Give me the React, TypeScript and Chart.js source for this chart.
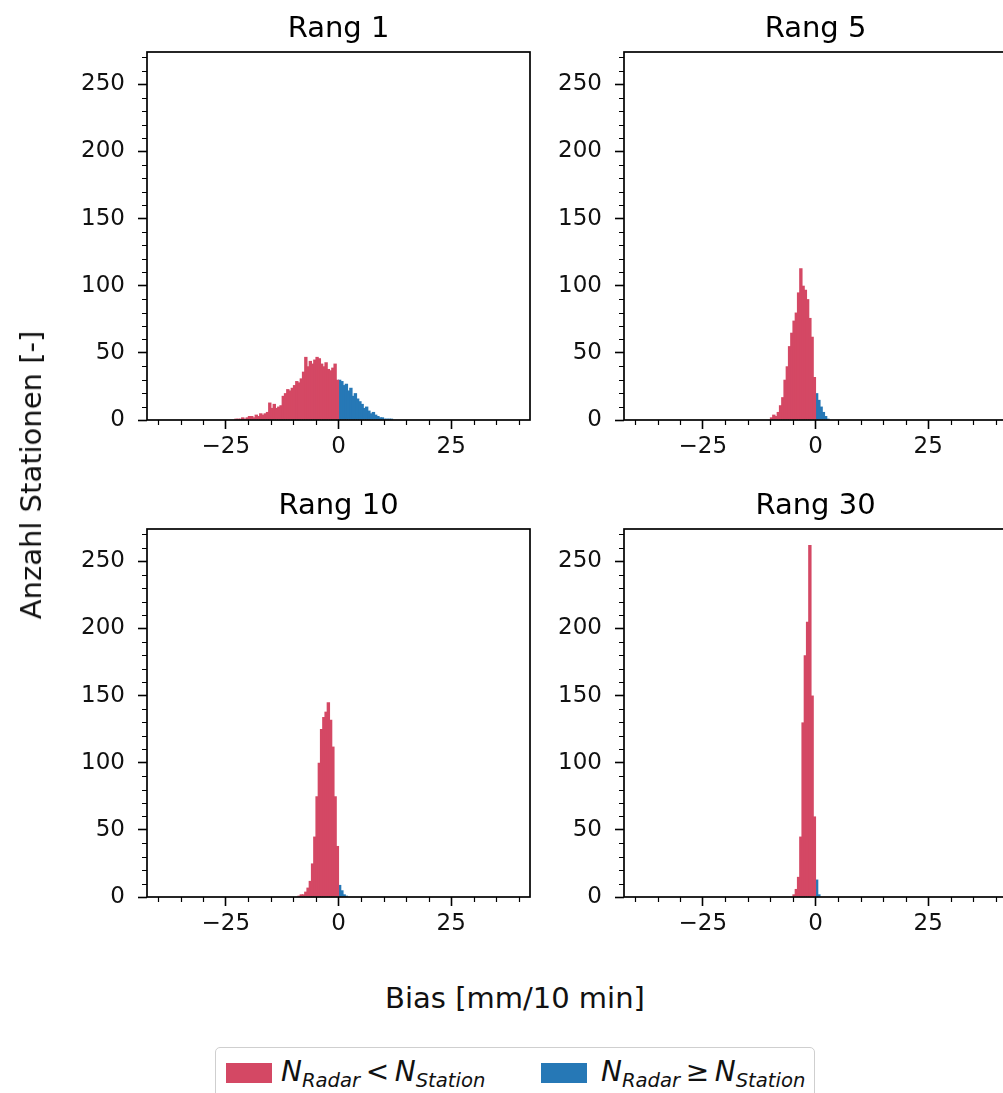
import React, { useEffect, useRef } from 'react';
import { Chart, registerables } from 'chart.js';

Chart.register(...registerables);

const FONT = '"DejaVu Sans", sans-serif';
const BIN_WIDTH = 0.5;
const X_MIN = -42.5;
const X_MAX = 42.5;
const Y_MIN = 0;
const Y_MAX = 274;
const xMajorTicks = [-25, 0, 25];
const yMajorTicks = [0, 50, 100, 150, 200, 250];
const X_MINOR_STEP = 5;
const Y_MINOR_STEP = 10;

const RED = 'rgb(212, 72, 100)';
const BLUE = 'rgb(38, 120, 182)';

const panelTitles = ['Rang 1', 'Rang 5', 'Rang 10', 'Rang 30'];

// histogram bins (0.5 mm wide), values = number of stations
const rang1RedFirstBin = -22.75;
const rang1Red = [
  1, 1, 1, 2, 1, 2, 3, 3, 2, 4,
  3, 5, 4, 5, 6, 13, 9, 12, 9, 10,
  11, 18, 20, 23, 22, 24, 26, 29, 28, 31,
  36, 47, 40, 44, 42, 45, 47, 46, 42, 40,
  43, 38, 37, 39, 42, 30,
];
const rang1BlueFirstBin = 0.25;
const rang1Blue = [30, 29, 26, 27, 22, 24, 18, 20, 16, 14, 12, 9, 10, 7, 5, 6, 4, 3, 2, 2, 1, 1, 1, 1];

const rang5RedFirstBin = -9.75;
const rang5Red = [2, 4, 3, 6, 11, 17, 30, 40, 55, 65, 74, 80, 95, 113, 100, 97, 90, 76, 62, 32];
const rang5BlueFirstBin = 0.25;
const rang5Blue = [20, 15, 10, 6, 3, 1];

const rang10RedFirstBin = -8.75;
const rang10Red = [1, 2, 2, 4, 7, 12, 25, 45, 75, 100, 125, 134, 138, 145, 132, 112, 75, 38];
const rang10BlueFirstBin = 0.25;
const rang10Blue = [9, 5, 2, 1];

const rang30RedFirstBin = -4.75;
const rang30Red = [2, 6, 15, 45, 130, 180, 205, 262, 150, 60];
const rang30BlueFirstBin = 0.25;
const rang30Blue = [13, 2];

const panels = [
  { title: panelTitles[0], redFirst: rang1RedFirstBin, red: rang1Red, blueFirst: rang1BlueFirstBin, blue: rang1Blue },
  { title: panelTitles[1], redFirst: rang5RedFirstBin, red: rang5Red, blueFirst: rang5BlueFirstBin, blue: rang5Blue },
  { title: panelTitles[2], redFirst: rang10RedFirstBin, red: rang10Red, blueFirst: rang10BlueFirstBin, blue: rang10Blue },
  { title: panelTitles[3], redFirst: rang30RedFirstBin, red: rang30Red, blueFirst: rang30BlueFirstBin, blue: rang30Blue },
];

// layout (plot-area top-left corners)
const PLOT_W = 383;
const PLOT_H = 368;
const Y_AXIS_W = 100;
const X_AXIS_H = 60;
const TITLE_H = 52;
const RIGHT_PAD = 20;
const panelPos = [
  { left: 147, top: 52 },
  { left: 624, top: 52 },
  { left: 147, top: 529 },
  { left: 624, top: 529 },
];

const fmt = (v: number) => (v < 0 ? '\u2212' + Math.abs(v) : String(v));

const framePlugin = {
  id: 'frameMinor',
  afterDraw(chart: any) {
    const { ctx, chartArea: a, scales } = chart;
    const xs = scales.x;
    const ys = scales.y;
    ctx.save();
    ctx.strokeStyle = '#000';
    ctx.lineWidth = 1.2;
    ctx.beginPath();
    for (let v = Math.ceil(X_MIN / X_MINOR_STEP) * X_MINOR_STEP; v <= X_MAX; v += X_MINOR_STEP) {
      if (xMajorTicks.includes(v)) continue;
      const px = Math.round(xs.getPixelForValue(v)) + 0.5;
      ctx.moveTo(px, a.bottom);
      ctx.lineTo(px, a.bottom + 5);
    }
    for (let v = Y_MIN; v <= Y_MAX; v += Y_MINOR_STEP) {
      if (yMajorTicks.includes(v)) continue;
      const py = Math.round(ys.getPixelForValue(v)) + 0.5;
      ctx.moveTo(a.left, py);
      ctx.lineTo(a.left - 5, py);
    }
    ctx.stroke();
    ctx.lineWidth = 1.7;
    ctx.strokeRect(a.left, a.top, a.right - a.left, a.bottom - a.top);
    ctx.restore();
  },
};

function HistPanel({ panel, pos }: { panel: any; pos: { left: number; top: number } }) {
  const ref = useRef<HTMLCanvasElement>(null);
  const w = Y_AXIS_W + PLOT_W + RIGHT_PAD;
  const h = TITLE_H + PLOT_H + X_AXIS_H;
  useEffect(() => {
    const toPoints = (first: number, vals: number[]) =>
      vals.map((v, i) => ({ x: first + i * BIN_WIDTH, y: v }));
    const barStyle = {
      borderWidth: 0,
      barPercentage: 1.5,
      categoryPercentage: 1,
      grouped: false,
    };
    const chart = new Chart(ref.current as HTMLCanvasElement, {
      type: 'bar',
      data: {
        datasets: [
          {
            label: 'N_Radar < N_Station',
            data: toPoints(panel.redFirst, panel.red),
            backgroundColor: RED,
            ...barStyle,
          } as any,
          {
            label: 'N_Radar >= N_Station',
            data: toPoints(panel.blueFirst, panel.blue),
            backgroundColor: BLUE,
            ...barStyle,
          } as any,
        ],
      },
      options: {
        responsive: false,
        animation: false,
        layout: { padding: { left: 0, right: RIGHT_PAD, top: 0, bottom: 0 } },
        plugins: {
          legend: { display: false },
          tooltip: { enabled: false },
          title: {
            display: true,
            text: panel.title,
            fullSize: false,
            color: '#000',
            font: { family: FONT, size: 29, weight: 'normal', lineHeight: 1.2 },
            padding: { top: 12, bottom: TITLE_H - 12 - 29 * 1.2 },
          },
        },
        scales: {
          x: {
            type: 'linear',
            position: 'bottom',
            min: X_MIN,
            max: X_MAX,
            offset: false,
            afterBuildTicks: (s: any) => {
              s.ticks = xMajorTicks.map((value) => ({ value }));
            },
            afterFit: (s: any) => {
              s.height = X_AXIS_H;
            },
            grid: {
              display: true,
              offset: false,
              drawOnChartArea: false,
              drawTicks: true,
              tickLength: 9,
              tickWidth: 1.6,
              tickColor: '#000',
            },
            border: { display: false },
            ticks: {
              color: '#111',
              font: { family: FONT, size: 23 },
              padding: 4,
              maxRotation: 0,
              autoSkip: false,
              callback: (v: any) => fmt(Number(v)),
            },
          },
          y: {
            type: 'linear',
            position: 'left',
            min: Y_MIN,
            max: Y_MAX,
            afterBuildTicks: (s: any) => {
              s.ticks = yMajorTicks.map((value) => ({ value }));
            },
            afterFit: (s: any) => {
              s.width = Y_AXIS_W;
            },
            grid: {
              display: true,
              drawOnChartArea: false,
              drawTicks: true,
              tickLength: 9,
              tickWidth: 1.6,
              tickColor: '#000',
            },
            border: { display: false },
            ticks: {
              color: '#111',
              font: { family: FONT, size: 23 },
              padding: 13,
              autoSkip: false,
              callback: (v: any) => fmt(Number(v)),
            },
          },
        },
      } as any,
      plugins: [framePlugin],
    });
    return () => chart.destroy();
  }, [panel]);
  return (
    <canvas
      ref={ref}
      width={w}
      height={h}
      style={{
        position: 'absolute',
        left: pos.left - Y_AXIS_W,
        top: pos.top - TITLE_H,
        width: w,
        height: h,
      }}
    />
  );
}

const sub = (t: string) => (
  <span style={{ fontSize: '0.7em', verticalAlign: '-0.3em', fontStyle: 'italic' }}>{t}</span>
);

export default function App() {
  return (
    <div
      style={{
        position: 'absolute',
        left: 0,
        top: 0,
        width: 1003,
        height: 1093,
        overflow: 'hidden',
        background: '#fff',
        fontFamily: FONT,
        color: '#111',
      }}
    >
      {panels.map((p, i) => (
        <HistPanel key={i} panel={p} pos={panelPos[i]} />
      ))}
      <div
        style={{
          position: 'absolute',
          left: 31,
          top: 475,
          transform: 'translate(-50%, -50%) rotate(-90deg)',
          whiteSpace: 'nowrap',
          fontSize: 29,
        }}
      >
        Anzahl Stationen [-]
      </div>
      <div
        style={{
          position: 'absolute',
          left: 515,
          top: 998,
          transform: 'translate(-50%, -50%)',
          whiteSpace: 'nowrap',
          fontSize: 29,
        }}
      >
        Bias [mm/10 min]
      </div>
      <div
        style={{
          position: 'absolute',
          left: 215,
          top: 1047,
          width: 600,
          height: 60,
          border: '1.5px solid #cfcfcf',
          borderRadius: 5,
          boxSizing: 'border-box',
          fontSize: 28,
        }}
      >
        <div style={{ position: 'absolute', left: 10, top: 15, width: 46, height: 20, background: RED }} />
        <div style={{ position: 'absolute', left: 65, top: 8, lineHeight: '32px', whiteSpace: 'nowrap' }}>
          <i>N</i>
          {sub('Radar')}
          <span>{'\u2009<\u2009'}</span>
          <i>N</i>
          {sub('Station')}
        </div>
        <div style={{ position: 'absolute', left: 325, top: 15, width: 46, height: 20, background: BLUE }} />
        <div style={{ position: 'absolute', left: 385, top: 8, lineHeight: '32px', whiteSpace: 'nowrap' }}>
          <i>N</i>
          {sub('Radar')}
          <span>{'\u2009\u2265\u2009'}</span>
          <i>N</i>
          {sub('Station')}
        </div>
      </div>
    </div>
  );
}
